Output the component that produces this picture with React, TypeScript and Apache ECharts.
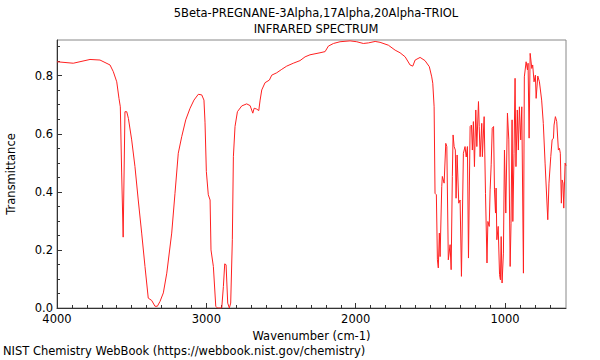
import React, { useEffect, useRef } from "react";
import * as echarts from "echarts";

const titleLines = ["5Beta-PREGNANE-3Alpha,17Alpha,20Alpha-TRIOL", "INFRARED SPECTRUM"];
const xLabel = "Wavenumber (cm-1)";
const yLabel = "Transmittance";
const footer = "NIST Chemistry WebBook (https://webbook.nist.gov/chemistry)";

const xMajorTicks = [1000, 2000, 3000, 4000];
const yMajorTicks = [0, 0.2, 0.4, 0.6, 0.8];

const wavenumbers = [
  4000, 3891, 3779, 3712, 3645, 3623, 3600, 3585, 3576, 3567, 3557, 3545, 3533, 3522, 3500,
  3478, 3456, 3433, 3411, 3389, 3366, 3344, 3328, 3310, 3288, 3265, 3232, 3210, 3188, 3165,
  3138, 3109, 3083, 3054, 3031, 3016, 3009, 3000, 2987, 2975, 2969, 2953, 2937, 2926, 2897,
  2886, 2877, 2868, 2857, 2846, 2837, 2826, 2819, 2808, 2792, 2763, 2730, 2707, 2689, 2680,
  2663, 2649, 2640, 2629, 2607, 2578, 2562, 2529, 2495, 2462, 2418, 2373, 2339, 2306, 2239,
  2205, 2183, 2149, 2105, 2038, 1993, 1949, 1915, 1870, 1837, 1781, 1736, 1703, 1669, 1636,
  1618, 1602, 1569, 1536, 1507, 1491, 1484, 1475, 1469, 1460, 1453, 1447, 1440, 1435, 1424,
  1420, 1408, 1397, 1390, 1380, 1368, 1361, 1353, 1348, 1341, 1333, 1328, 1321, 1310, 1301,
  1292, 1279, 1268, 1260, 1252, 1245, 1234, 1225, 1219, 1212, 1205, 1196, 1189, 1178, 1173,
  1167, 1156, 1152, 1140, 1131, 1121, 1115, 1106, 1100, 1093, 1086, 1077, 1071, 1064, 1060,
  1055, 1046, 1037, 1031, 1026, 1020, 1011, 1004, 995, 984, 975, 966, 960, 953, 948,
  940, 933, 927, 918, 911, 904, 895, 888, 877, 871, 859, 850, 846, 839, 832,
  821, 815, 806, 797, 792, 781, 770, 755, 744, 732, 714, 706, 694, 685, 676,
  672, 663, 654, 643, 636, 630, 623, 618, 612, 607, 598, 592,
];

const transmittance = [
  0.848, 0.843, 0.856, 0.854, 0.837, 0.814, 0.779, 0.722, 0.693, 0.465, 0.244, 0.676, 0.676, 0.653, 0.579,
  0.487, 0.372, 0.258, 0.143, 0.034, 0.026, 0.006, 0.006, 0.023, 0.052, 0.12, 0.258, 0.395, 0.533, 0.59,
  0.648, 0.688, 0.716, 0.736, 0.734, 0.716, 0.64, 0.47, 0.39, 0.372, 0.2, 0.143, 0.006, 0.0, 0.0,
  0.074, 0.152, 0.149, 0.017, 0.0, 0.017, 0.235, 0.521, 0.625, 0.676, 0.696, 0.703, 0.697, 0.671, 0.688,
  0.685, 0.68, 0.716, 0.751, 0.776, 0.785, 0.802, 0.81, 0.822, 0.833, 0.843, 0.852, 0.865, 0.872, 0.879,
  0.883, 0.902, 0.911, 0.917, 0.92, 0.917, 0.911, 0.913, 0.918, 0.915, 0.905, 0.888, 0.879, 0.865, 0.837,
  0.833, 0.854, 0.863, 0.852, 0.831, 0.796, 0.774, 0.693, 0.395, 0.39, 0.166, 0.138, 0.258, 0.177, 0.418,
  0.453, 0.43, 0.567, 0.556, 0.166, 0.218, 0.132, 0.453, 0.596, 0.556, 0.544, 0.378, 0.527, 0.361, 0.372,
  0.109, 0.533, 0.556, 0.52, 0.556, 0.172, 0.625, 0.63, 0.544, 0.642, 0.487, 0.682, 0.556, 0.711, 0.625,
  0.521, 0.636, 0.521, 0.659, 0.395, 0.155, 0.298, 0.281, 0.407, 0.493, 0.619, 0.625, 0.407, 0.327, 0.413,
  0.235, 0.281, 0.115, 0.097, 0.246, 0.086, 0.189, 0.544, 0.327, 0.671, 0.579, 0.143, 0.292, 0.648, 0.298,
  0.533, 0.791, 0.487, 0.682, 0.544, 0.693, 0.579, 0.693, 0.12, 0.796, 0.848, 0.82, 0.843, 0.585, 0.877,
  0.825, 0.837, 0.779, 0.802, 0.722, 0.799, 0.779, 0.716, 0.636, 0.499, 0.304, 0.43, 0.521, 0.579, 0.585,
  0.63, 0.659, 0.642, 0.544, 0.55, 0.533, 0.361, 0.441, 0.43, 0.344, 0.499, 0.49,
];

const X_MIN = 592;
const X_MAX = 4000;
const Y_MIN = 0;
const Y_MAX = 0.923;

export default function App() {
  const ref = useRef<HTMLDivElement>(null);

  useEffect(() => {
    if (!ref.current) return;
    const chart = echarts.init(ref.current, undefined, { renderer: "svg" });

    const xMinor: number[] = [];
    for (let v = 700; v <= 3900; v += 100) if (v % 1000 !== 0) xMinor.push(v);
    const yMinor: number[] = [];
    for (let i = 1; i <= 18; i++) {
      const v = Math.round(i * 5) / 100;
      if (i % 4 !== 0) yMinor.push(v);
    }

    const font = "DejaVu Sans";
    const fs = 11.5;
    const data = wavenumbers.map((w, i) => [w, transmittance[i]]);

    chart.setOption({
      animation: false,
      textStyle: { fontFamily: font },
      title: {
        text: titleLines.join("\n"),
        left: 311,
        top: 0,
        textAlign: "center",
        textStyle: { fontFamily: font, fontSize: fs, fontWeight: "normal", color: "#000", lineHeight: 16 },
      },
      grid: {
        left: 57,
        right: 34,
        top: 40,
        bottom: 52,
        show: true,
        borderColor: "#888",
        borderWidth: 1,
        backgroundColor: "#fff",
        containLabel: false,
        outerBoundsMode: "none",
      },
      graphic: [
        {
          type: "text",
          left: 3,
          top: 345,
          style: { text: footer, fontFamily: font, fontSize: fs, fill: "#000" },
        },
      ],
      xAxis: [
        {
          type: "value",
          inverse: true,
          min: X_MIN,
          max: X_MAX,
          position: "bottom",
          name: xLabel,
          nameLocation: "middle",
          nameGap: 18,
          nameTextStyle: { fontFamily: font, fontSize: fs, color: "#000" },
          axisLine: { show: true, onZero: false, lineStyle: { color: "#333", width: 1 } },
          axisTick: { show: true, inside: true, length: 5, customValues: xMajorTicks, lineStyle: { color: "#333" } },
          axisLabel: {
            show: true,
            customValues: xMajorTicks,
            margin: 5,
            fontFamily: font,
            fontSize: fs,
            color: "#000",
            hideOverlap: false,
            formatter: (v: number) => String(v),
          },
          splitLine: { show: false },
        },
        {
          type: "value",
          inverse: true,
          min: X_MIN,
          max: X_MAX,
          position: "bottom",
          axisLine: { show: false, onZero: false },
          axisTick: { show: true, inside: true, length: 3, customValues: xMinor, lineStyle: { color: "#333" } },
          axisLabel: { show: false },
          splitLine: { show: false },
        },
      ],
      yAxis: [
        {
          type: "value",
          min: Y_MIN,
          max: Y_MAX,
          position: "left",
          name: yLabel,
          nameLocation: "middle",
          nameGap: 40,
          nameTextStyle: { fontFamily: font, fontSize: fs, color: "#000" },
          axisLine: { show: true, onZero: false, lineStyle: { color: "#333", width: 1 } },
          axisTick: { show: true, inside: true, length: 5, customValues: yMajorTicks, lineStyle: { color: "#333" } },
          axisLabel: {
            show: true,
            customValues: yMajorTicks,
            margin: 4,
            fontFamily: font,
            fontSize: fs,
            color: "#000",
            formatter: (v: number) => v.toFixed(1),
          },
          splitLine: { show: false },
        },
        {
          type: "value",
          min: Y_MIN,
          max: Y_MAX,
          position: "left",
          axisLine: { show: false, onZero: false },
          axisTick: { show: true, inside: true, length: 3, customValues: yMinor, lineStyle: { color: "#333" } },
          axisLabel: { show: false },
          splitLine: { show: false },
        },
      ],
      series: [
        {
          type: "line",
          xAxisIndex: 0,
          yAxisIndex: 0,
          data,
          showSymbol: false,
          symbol: "none",
          smooth: false,
          lineStyle: { color: "#ff2020", width: 1 },
          itemStyle: { color: "#ff2020" },
          clip: true,
        },
      ],
    });

    return () => chart.dispose();
  }, []);

  return (
    <div
      ref={ref}
      style={{ position: "fixed", left: 0, top: 0, width: 600, height: 360, background: "#fff" }}
    />
  );
}
